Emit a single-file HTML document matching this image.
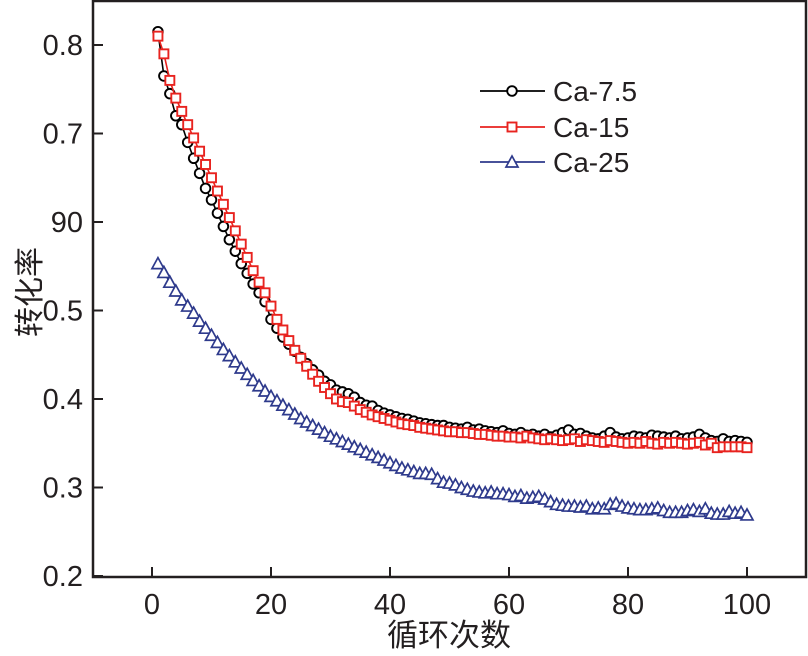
<!DOCTYPE html>
<html><head><meta charset="utf-8"><style>
html,body{margin:0;padding:0;background:#fff;}
svg text{font-family:"Liberation Sans","Noto Sans CJK SC",sans-serif;fill:#231f20;}
</style></head><body>
<svg id="chart" width="808" height="651" xmlns="http://www.w3.org/2000/svg">
<g id="axes"></g>
<g id="series"></g>
<g id="legend"></g>
</svg>
<script>
const cycles = Array.from({length:100},(_, i)=>i+1);
const ca75 = [0.815,0.765,0.745,0.72,0.71,0.69,0.672,0.655,0.638,0.625,0.61,0.595,0.58,0.567,0.553,0.542,0.53,0.52,0.51,0.49,0.48,0.47,0.462,0.454,0.447,0.44,0.433,0.427,0.42,0.416,0.41,0.408,0.406,0.402,0.396,0.393,0.392,0.387,0.384,0.382,0.38,0.378,0.377,0.375,0.373,0.372,0.371,0.37,0.37,0.368,0.367,0.366,0.368,0.365,0.366,0.364,0.363,0.362,0.364,0.361,0.36,0.362,0.359,0.36,0.358,0.36,0.357,0.359,0.362,0.365,0.36,0.361,0.358,0.356,0.355,0.358,0.362,0.357,0.355,0.356,0.358,0.357,0.356,0.359,0.358,0.357,0.356,0.358,0.355,0.356,0.357,0.36,0.356,0.353,0.352,0.355,0.352,0.353,0.352,0.351];
const ca15 = [0.81,0.79,0.76,0.74,0.725,0.71,0.695,0.68,0.665,0.65,0.635,0.62,0.605,0.59,0.575,0.56,0.545,0.532,0.52,0.505,0.49,0.478,0.466,0.455,0.446,0.437,0.428,0.42,0.413,0.406,0.4,0.397,0.396,0.392,0.388,0.385,0.382,0.38,0.378,0.376,0.374,0.372,0.371,0.37,0.368,0.367,0.366,0.365,0.364,0.363,0.363,0.362,0.362,0.361,0.36,0.36,0.359,0.358,0.358,0.357,0.357,0.356,0.358,0.356,0.355,0.354,0.355,0.354,0.353,0.354,0.355,0.352,0.354,0.353,0.352,0.351,0.353,0.352,0.351,0.35,0.351,0.35,0.352,0.35,0.349,0.351,0.35,0.351,0.35,0.349,0.35,0.351,0.348,0.35,0.345,0.346,0.346,0.346,0.346,0.345];
const ca25 = [0.553,0.543,0.532,0.522,0.512,0.505,0.497,0.488,0.48,0.472,0.464,0.456,0.449,0.442,0.435,0.428,0.421,0.415,0.409,0.403,0.398,0.393,0.388,0.383,0.378,0.374,0.37,0.366,0.362,0.358,0.355,0.352,0.349,0.346,0.343,0.34,0.337,0.334,0.331,0.328,0.325,0.322,0.32,0.318,0.316,0.316,0.315,0.31,0.306,0.305,0.303,0.3,0.298,0.296,0.295,0.294,0.295,0.293,0.293,0.292,0.29,0.291,0.288,0.289,0.29,0.287,0.284,0.281,0.28,0.279,0.279,0.278,0.279,0.276,0.277,0.276,0.281,0.282,0.279,0.277,0.276,0.275,0.275,0.276,0.277,0.274,0.272,0.272,0.272,0.274,0.275,0.273,0.276,0.271,0.27,0.27,0.273,0.271,0.272,0.269];
const xTicks = [0,20,40,60,80,100];
const yTicks = [0.2,0.3,0.4,0.5,0.6,0.7,0.8];
const yTickLabels = ["0.2","0.3","0.4","0.5","90","0.7","0.8"];
const seriesNames = ["Ca-7.5","Ca-15","Ca-25"];

const NS="http://www.w3.org/2000/svg";
const L=93,R=806,T=1,B=577;
const xs=v=>152+v*5.95;
const ys=v=>576-(v-0.2)*885;
function mk(tag,parent,attrs){const e=document.createElementNS(NS,tag);for(const k in attrs)e.setAttribute(k,attrs[k]);parent.appendChild(e);return e;}
const axes=document.getElementById('axes');
const frame=mk('rect',axes,{x:L,y:T,width:R-L,height:B-T,fill:'none',stroke:'#231f20','stroke-width':2.5});


xTicks.forEach(v=>{
  const t=mk('line',axes,{x1:xs(v),x2:xs(v),y1:B,y2:B-10,stroke:'#231f20','stroke-width':2});
  
  
  const tx=mk('text',axes,{x:xs(v),y:614,'text-anchor':'middle','font-size':29});
  tx.textContent=v;
  
  
});
yTicks.forEach((v,i)=>{
  const t=mk('line',axes,{x1:L,x2:L+10,y1:ys(v),y2:ys(v),stroke:'#231f20','stroke-width':2});
  
  
  const tx=mk('text',axes,{x:83,y:ys(v)+10,'text-anchor':'end','font-size':29});
  tx.textContent=yTickLabels[i];
  
  
});
const xt=mk('text',axes,{x:449,y:646,'text-anchor':'middle','font-size':31});
xt.textContent='循环次数';


const yt=mk('text',axes,{x:0,y:0,'text-anchor':'middle','font-size':30,transform:'translate(40,292) rotate(-90)'});
yt.textContent='转化率';



const styles=[{c:'#000000',m:'circle'},{c:'#e8231f',m:'square'},{c:'#2e3a8c',m:'triangle'}];
function marker(g,type,x,y,c){
  if(type==='circle') return mk('circle',g,{cx:x,cy:y,r:4.8,fill:'#fff',stroke:c,'stroke-width':1.9});
  if(type==='square') return mk('rect',g,{x:x-4.5,y:y-4.5,width:9,height:9,fill:'#fff',stroke:c,'stroke-width':1.9});
  return mk('polygon',g,{points:`${x},${y-6} ${x-6},${y+5} ${x+6},${y+5}`,fill:'#fff',stroke:c,'stroke-width':1.7});
}
const ser=document.getElementById('series');
[ca75,ca15,ca25].forEach((data,si)=>{
  const g=mk('g',ser,{});
  
  
  const p=mk('polyline',g,{points:data.map((v,i)=>xs(cycles[i])+','+ys(v)).join(' '),fill:'none',stroke:styles[si].c,'stroke-width':1.6});
  
  
  data.forEach((v,i)=>{
    const m=marker(g,styles[si].m,xs(cycles[i]),ys(v),styles[si].c);
    
    
  });
});
const leg=document.getElementById('legend');
const ly=[91,127,162];
seriesNames.forEach((n,i)=>{
  const g=mk('g',leg,{});
  
  
  mk('line',g,{x1:480,x2:545,y1:ly[i],y2:ly[i],stroke:styles[i].c,'stroke-width':1.8});
  marker(g,styles[i].m,512,ly[i],styles[i].c);
  const t=mk('text',g,{x:553,y:ly[i]+10,'font-size':28});
  t.textContent=n;
});
</script>
</body></html>
